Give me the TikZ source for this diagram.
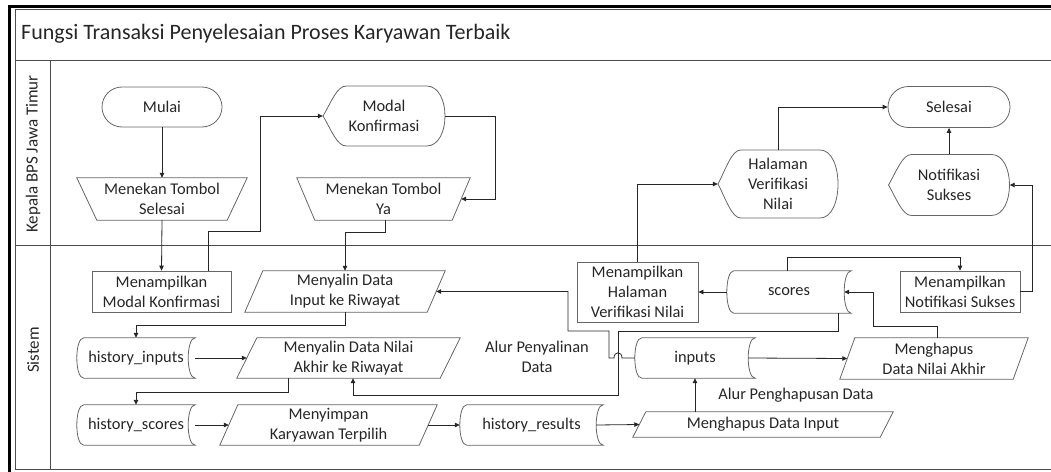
\documentclass[tikz,border=0pt]{standalone}
\usepackage{fontspec}
\setmainfont{Carlito}
\usetikzlibrary{arrows.meta}

\tikzset{
  shp/.style={draw=black!60, line width=0.8pt},
  txt/.style={inner sep=0pt, align=center, font=\fontsize{16.4}{20}\selectfont, text=black!85},
  conn/.style={draw=black!85, line width=0.8pt, -{Triangle[length=5pt,width=4.5pt]}},
  pool/.style={draw=black!70, line width=0.8pt},
}

% manual input: wider at the top, bottom edge inset on both sides
\newcommand\manualnode[7]{%
  \node[txt, minimum width=#4pt, minimum height=#5pt] (#1) at (#2,#3) {#7};
  \draw[shp] (#1.north west) -- (#1.north east) -- ([xshift=-#6pt]#1.south east)
    -- ([xshift=#6pt]#1.south west) -- cycle;}

% data (parallelogram leaning to the right)
\newcommand\ionode[7]{%
  \node[txt, minimum width=#4pt, minimum height=#5pt] (#1) at (#2,#3) {#7};
  \draw[shp] ([xshift=#6pt]#1.north west) -- (#1.north east) -- ([xshift=-#6pt]#1.south east)
    -- (#1.south west) -- cycle;}

% stored data: both ends curved the same way
\newcommand\storednode[6]{%
  \node[txt, minimum width=#4pt, minimum height=#5pt] (#1) at (#2,#3) {#6};
  \draw[shp] ([xshift=7pt]#1.north west) -- (#1.north east)
    .. controls ([xshift=-9.33pt]#1.north east) and ([xshift=-9.33pt]#1.south east) .. (#1.south east)
    -- ([xshift=7pt]#1.south west)
    .. controls ([xshift=-2.33pt]#1.south west) and ([xshift=-2.33pt]#1.north west) .. ([xshift=7pt]#1.north west)
    -- cycle;}

% display: pointed left end, rounded right end
\newcommand\dispnode[6]{%
  \pgfmathsetmacro\sL{#2-#4/2}\pgfmathsetmacro\sR{#2+#4/2}%
  \pgfmathsetmacro\sT{#3-#5/2}\pgfmathsetmacro\sB{#3+#5/2}%
  \pgfmathsetmacro\sA{0.19*#4}\pgfmathsetmacro\sC{0.15*#4}\pgfmathsetmacro\sH{#5/2}%
  \draw[shp] (\sL,#3) .. controls (\sL+0.35*\sA,#3-0.45*\sH) and (\sL+0.6*\sA,\sT) .. (\sL+\sA,\sT)
    -- (\sR-\sC,\sT) .. controls (\sR+0.333*\sC,\sT) and (\sR+0.333*\sC,\sB) .. (\sR-\sC,\sB)
    -- (\sL+\sA,\sB) .. controls (\sL+0.6*\sA,\sB) and (\sL+0.35*\sA,#3+0.45*\sH) .. (\sL,#3) -- cycle;
  \node[txt, minimum width=#4pt, minimum height=#5pt] (#1) at (#2,#3) {#6};}

\begin{document}
\begin{tikzpicture}[x=1pt, y=-1pt]
\useasboundingbox (0,0) rectangle (1051,471);
\clip (0,0) rectangle (1051,471);

% pool and lanes
\draw[pool] (15,9) rectangle (1060,469);
\draw[pool] (15,60) -- (1060,60);
\draw[pool] (15,245) -- (1060,245);
\draw[pool] (50.5,60) -- (50.5,469);
\draw[line width=2.6pt, black] (9.3,480) -- (9.3,6.3) -- (1060,6.3);

\node[anchor=west, inner sep=0pt, font=\fontsize{22}{26}\selectfont, text=black!85] (title) at (21,34)
  {Fungsi Transaksi Penyelesaian Proses Karyawan Terbaik};
\node[rotate=90, inner sep=0pt, font=\fontsize{17}{20}\selectfont, text=black!85] (lane1) at (33,154) {Kepala BPS Jawa Timur};
\node[rotate=90, inner sep=0pt, font=\fontsize{17}{20}\selectfont, text=black!85] (lane2) at (33,350) {Sistem};

% lane: Kepala BPS Jawa Timur
\node[shp, txt, rounded corners=20pt, minimum width=120pt, minimum height=40pt] (start) at (162,107) {Mulai};
\manualnode{tsel}{162}{199}{170}{42}{20}{Menekan Tombol\\Selesai}
\dispnode{modal}{384}{116}{122}{60}{Modal\\Konfirmasi}
\manualnode{tya}{383.5}{199}{173}{42}{18}{Menekan Tombol\\Ya}
\dispnode{halaman}{778}{184}{120}{68}{Halaman\\Verifikasi\\Nilai}
\node[shp, txt, rounded corners=20.5pt, minimum width=122pt, minimum height=41pt] (selesai) at (949,107) {Selesai};
\dispnode{notif}{949}{185}{121}{61}{Notifikasi\\Sukses}

% lane: Sistem
\node[shp, txt, minimum width=139pt, minimum height=41pt] (tmodal) at (161.5,291.5) {Menampilkan\\Modal Konfirmasi};
\ionode{salin1}{345}{291.5}{200}{41}{18}{Menyalin Data\\Input ke Riwayat}
\storednode{hin}{136}{358}{118}{40}{history\_inputs}
\ionode{salin2}{348.5}{358}{223}{40}{20}{Menyalin Data Nilai\\Akhir ke Riwayat}
\storednode{hsc}{136}{425}{118}{40}{history\_scores}
\ionode{simpan}{328.5}{425}{217}{40}{18}{Menyimpan\\Karyawan Terpilih}
\storednode{hres}{531.5}{425}{143}{40}{history\_results}
\ionode{hapusin}{763}{424.5}{260}{25}{13}{Menghapus Data Input}
\storednode{inputs}{695}{358}{120}{40}{inputs}
\ionode{hapusnilai}{934}{358.5}{188}{41}{15}{Menghapus\\Data Nilai Akhir}
\storednode{scores}{789}{292}{124}{42}{scores}
\node[shp, txt, minimum width=121pt, minimum height=60pt] (thal) at (637.5,292) {Menampilkan\\Halaman\\Verifikasi Nilai};
\node[shp, txt, minimum width=120pt, minimum height=41pt] (tnotif) at (960,291.5) {Menampilkan\\Notifikasi Sukses};

\node[txt] (lblcopy) at (537,357) {Alur Penyalinan\\Data};
\node[txt] (lbldel) at (796,395) {Alur Penghapusan Data};

% flow
\draw[conn] (start.south) -- (tsel.north);
\draw[conn] (tsel.south) -- (tmodal.north);
\draw[conn] ([xshift=46.5pt]tmodal.north) -- ++(0,-39) -- ++(52,0) |- (modal.west);
\draw[conn] (modal.east) -- ++(50,0) |- ([xshift=-9pt]tya.east);
\draw[conn] ([xshift=1.5pt]tya.south) -- ++(0,12) -| (salin1.north);
\draw[conn] (salin1.south) -- ++(0,13) -| (hin.north);
\draw[conn] (hin.east) -- ([xshift=10pt]salin2.west);
\draw[conn] ([xshift=-60pt]salin2.south) -- ++(0,14) -| (hsc.north);
\draw[conn] (hsc.east) -- ([xshift=9pt]simpan.west);
\draw[conn] ([xshift=-9pt]simpan.east) -- (hres.west);
\draw[conn] ([xshift=-7pt]hres.east) -- ([xshift=6.5pt]hapusin.west);
\draw[conn] (hapusin.north -| inputs.south) -- (inputs.south);
\draw[conn] ([xshift=-7pt]inputs.east) -- ([xshift=7.5pt]hapusnilai.west);
\draw[conn] ([xshift=3pt]hapusnilai.north) -- ++(0,-11) -- ++(-64,0) |- ([xshift=-7pt]scores.east);
\draw[conn] (scores.west) -- (thal.east);
\draw[conn] (thal.north) |- (halaman.west);
\draw[conn] (halaman.north) |- (selesai.west);
\draw[conn] (notif.north) -- (selesai.south);
\draw[conn] ([xshift=-2pt]scores.north) -- ++(0,-13) -| (tnotif.north);
\draw[conn] (tnotif.east) -- ++(12,0) |- (notif.east);

% copy flows (scores and inputs back to the history steps)
\coordinate (sA) at (618,331);
\coordinate (sB) at (618,395);
\draw[conn] ([xshift=49pt]scores.south) |- (sA) -- (sB) -| ([xshift=4.5pt]salin2.south);
\coordinate (hopR) at (622,358);
\coordinate (hopL) at (614,358);
\draw[conn] (inputs.west) -- (hopR) .. controls (622,351) and (614,351) .. (hopL)
  -- (609,358) -- (609,331) -- (568,331) |- ([xshift=-9pt]salin1.east);
\end{tikzpicture}
\end{document}
